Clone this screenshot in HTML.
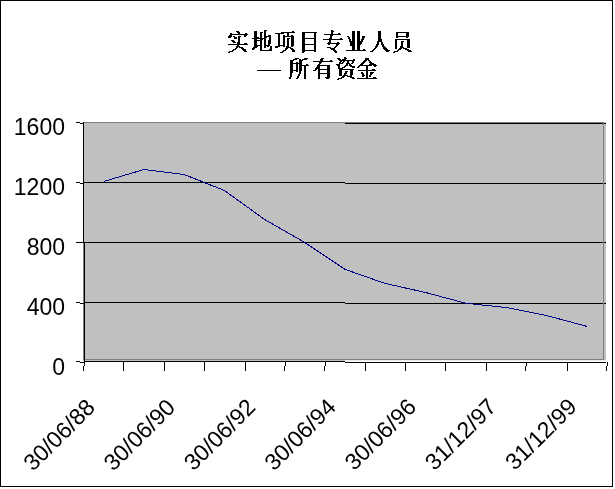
<!DOCTYPE html>
<html><head><meta charset="utf-8"><title>Chart</title>
<style>
html,body{margin:0;padding:0;background:#fff;}
body{width:615px;height:489px;overflow:hidden;font-family:"Liberation Sans",sans-serif;}
svg{display:block;}
</style></head><body>
<svg style="will-change:transform" width="615" height="489" viewBox="0 0 615 489">
<rect x="0" y="0" width="615" height="489" fill="#fff"/>
<g shape-rendering="crispEdges">
<rect x="83" y="122" width="523" height="239" fill="#c0c0c0"/>
<rect x="345" y="360" width="261" height="1" fill="#ebebeb"/>
<rect x="83" y="182" width="262" height="1" fill="#000"/>
<rect x="83" y="242" width="262" height="1" fill="#000"/>
<rect x="83" y="302" width="262" height="1" fill="#000"/>
<rect x="345" y="123" width="261" height="1" fill="#000"/>
<rect x="345" y="183" width="261" height="1" fill="#000"/>
<rect x="345" y="242" width="261" height="1" fill="#000"/>
<rect x="345" y="303" width="261" height="1" fill="#000"/>
<rect x="83" y="122" width="521" height="1" fill="#808080"/>
<rect x="83" y="359" width="521" height="1" fill="#808080"/>
<rect x="603" y="122" width="1" height="238" fill="#808080"/>
<rect x="83" y="122" width="1" height="238" fill="#808080"/>
<rect x="84" y="361" width="261" height="1" fill="#000"/>
<rect x="345" y="362" width="261" height="1" fill="#000"/>
<rect x="83" y="122" width="1" height="121" fill="#000"/>
<rect x="84" y="243" width="1" height="120" fill="#000"/>
<rect x="76" y="122" width="4" height="1" fill="#000"/>
<rect x="80" y="123" width="4" height="1" fill="#000"/>
<rect x="76" y="182" width="4" height="1" fill="#000"/>
<rect x="80" y="183" width="4" height="1" fill="#000"/>
<rect x="76" y="302" width="4" height="1" fill="#000"/>
<rect x="80" y="303" width="4" height="1" fill="#000"/>
<rect x="76" y="361" width="4" height="1" fill="#000"/>
<rect x="80" y="362" width="4" height="1" fill="#000"/>
<rect x="76" y="242" width="8" height="1" fill="#000"/>
<rect x="84" y="361" width="1" height="5" fill="#000"/>
<rect x="83" y="366" width="1" height="5" fill="#000"/>
<rect x="123" y="361" width="1" height="10" fill="#000"/>
<rect x="164" y="361" width="1" height="10" fill="#000"/>
<rect x="204" y="361" width="1" height="10" fill="#000"/>
<rect x="245" y="361" width="1" height="10" fill="#000"/>
<rect x="285" y="361" width="1" height="5" fill="#000"/>
<rect x="284" y="366" width="1" height="5" fill="#000"/>
<rect x="325" y="361" width="1" height="5" fill="#000"/>
<rect x="324" y="366" width="1" height="5" fill="#000"/>
<rect x="365" y="362" width="1" height="9" fill="#000"/>
<rect x="405" y="362" width="1" height="9" fill="#000"/>
<rect x="445" y="362" width="1" height="9" fill="#000"/>
<rect x="486" y="362" width="1" height="9" fill="#000"/>
<rect x="526" y="362" width="1" height="4" fill="#000"/>
<rect x="525" y="366" width="1" height="5" fill="#000"/>
<rect x="567" y="362" width="1" height="9" fill="#000"/>
<rect x="607" y="362" width="1" height="4" fill="#000"/>
<rect x="606" y="366" width="1" height="5" fill="#000"/>
<rect x="0" y="0" width="613" height="1" fill="#000"/>
<rect x="0" y="486" width="613" height="1" fill="#000"/>
<rect x="0" y="0" width="1" height="487" fill="#000"/>
<rect x="612" y="0" width="1" height="487" fill="#000"/>
<polyline fill="none" stroke="#000080" stroke-width="1" points="103.6,181.5 143.9,169.5 184.1,174.5 224.4,190.5 264.6,219.5 304.9,242.5 345.1,269.4 385.4,283.5 425.6,292.5 465.9,303.3 506.1,307.5 546.4,315.5 586.6,326.3"/>
<rect x="257" y="70" width="24" height="1" fill="#000"/>
</g>
<path fill="#000" shape-rendering="crispEdges" d="M236 31h3v1h-3zM237 32h3v1h-3zM230 33h2v1h-2zM238 33h2v1h-2zM245 33h2v1h-2zM230 34h18v1h-18zM229 35h3v1h-3zM244 35h3v1h-3zM228 36h4v1h-4zM233 36h2v1h-2zM238 36h3v1h-3zM244 36h2v1h-2zM228 37h3v1h-3zM234 37h3v1h-3zM238 37h2v1h-2zM234 38h3v1h-3zM238 38h2v1h-2zM238 39h2v1h-2zM231 40h3v1h-3zM238 40h2v1h-2zM232 41h3v1h-3zM238 41h2v1h-2zM233 42h3v1h-3zM237 42h3v1h-3zM237 43h3v1h-3zM244 43h3v1h-3zM228 44h20v1h-20zM237 45h2v1h-2zM236 46h4v1h-4zM236 47h2v1h-2zM239 47h4v1h-4zM235 48h2v1h-2zM241 48h3v1h-3zM233 49h3v1h-3zM242 49h4v1h-4zM232 50h2v1h-2zM243 50h3v1h-3zM229 51h4v1h-4zM244 51h3v1h-3zM228 52h2v1h-2zM264 30h3v1h-3zM254 31h3v1h-3zM264 31h2v1h-2zM254 32h3v1h-3zM260 32h3v1h-3zM264 32h2v1h-2zM254 33h3v1h-3zM260 33h2v1h-2zM264 33h2v1h-2zM254 34h3v1h-3zM260 34h2v1h-2zM264 34h2v1h-2zM254 35h3v1h-3zM260 35h2v1h-2zM264 35h2v1h-2zM268 35h3v1h-3zM254 36h3v1h-3zM260 36h2v1h-2zM264 36h7v1h-7zM254 37h5v1h-5zM260 37h2v1h-2zM264 37h3v1h-3zM269 37h2v1h-2zM252 38h14v1h-14zM269 38h2v1h-2zM254 39h3v1h-3zM260 39h3v1h-3zM264 39h2v1h-2zM269 39h2v1h-2zM254 40h8v1h-8zM264 40h2v1h-2zM268 40h3v1h-3zM254 41h3v1h-3zM260 41h2v1h-2zM264 41h2v1h-2zM268 41h3v1h-3zM254 42h3v1h-3zM260 42h2v1h-2zM264 42h2v1h-2zM268 42h3v1h-3zM254 43h3v1h-3zM260 43h2v1h-2zM264 43h2v1h-2zM268 43h3v1h-3zM254 44h3v1h-3zM260 44h2v1h-2zM264 44h2v1h-2zM268 44h2v1h-2zM254 45h8v1h-8zM264 45h6v1h-6zM254 46h4v1h-4zM260 46h2v1h-2zM264 46h2v1h-2zM267 46h2v1h-2zM270 46h2v1h-2zM253 47h4v1h-4zM260 47h2v1h-2zM264 47h2v1h-2zM270 47h2v1h-2zM252 48h3v1h-3zM260 48h2v1h-2zM270 48h2v1h-2zM252 49h2v1h-2zM260 49h2v1h-2zM269 49h3v1h-3zM260 50h12v1h-12zM292 31h2v1h-2zM281 32h14v1h-14zM275 33h9v1h-9zM287 33h2v1h-2zM278 34h2v1h-2zM287 34h2v1h-2zM278 35h2v1h-2zM283 35h2v1h-2zM287 35h2v1h-2zM291 35h2v1h-2zM278 36h2v1h-2zM283 36h11v1h-11zM278 37h2v1h-2zM283 37h2v1h-2zM291 37h3v1h-3zM278 38h2v1h-2zM283 38h2v1h-2zM287 38h3v1h-3zM291 38h3v1h-3zM278 39h2v1h-2zM283 39h2v1h-2zM287 39h2v1h-2zM291 39h3v1h-3zM278 40h2v1h-2zM283 40h2v1h-2zM287 40h2v1h-2zM291 40h3v1h-3zM278 41h2v1h-2zM283 41h2v1h-2zM287 41h2v1h-2zM291 41h3v1h-3zM278 42h2v1h-2zM283 42h2v1h-2zM287 42h2v1h-2zM291 42h3v1h-3zM278 43h2v1h-2zM283 43h2v1h-2zM287 43h2v1h-2zM291 43h3v1h-3zM278 44h2v1h-2zM283 44h2v1h-2zM287 44h2v1h-2zM291 44h3v1h-3zM278 45h7v1h-7zM287 45h2v1h-2zM291 45h3v1h-3zM275 46h5v1h-5zM283 46h2v1h-2zM286 46h3v1h-3zM291 46h2v1h-2zM275 47h3v1h-3zM286 47h5v1h-5zM285 48h3v1h-3zM290 48h3v1h-3zM285 49h2v1h-2zM291 49h3v1h-3zM283 50h3v1h-3zM292 50h3v1h-3zM282 51h2v1h-2zM292 51h3v1h-3zM280 52h3v1h-3zM302 32h15v1h-15zM302 33h3v1h-3zM314 33h2v1h-2zM302 34h3v1h-3zM314 34h2v1h-2zM302 35h3v1h-3zM314 35h2v1h-2zM302 36h3v1h-3zM314 36h2v1h-2zM302 37h3v1h-3zM314 37h2v1h-2zM302 38h14v1h-14zM302 39h3v1h-3zM314 39h2v1h-2zM302 40h3v1h-3zM314 40h2v1h-2zM302 41h3v1h-3zM314 41h2v1h-2zM302 42h3v1h-3zM314 42h2v1h-2zM302 43h3v1h-3zM314 43h2v1h-2zM302 44h14v1h-14zM302 45h3v1h-3zM314 45h2v1h-2zM302 46h3v1h-3zM314 46h2v1h-2zM302 47h3v1h-3zM314 47h2v1h-2zM302 48h3v1h-3zM314 48h2v1h-2zM302 49h3v1h-3zM314 49h2v1h-2zM302 50h14v1h-14zM302 51h3v1h-3zM314 51h2v1h-2zM302 52h2v1h-2zM331 30h2v1h-2zM331 31h3v1h-3zM331 32h2v1h-2zM331 33h2v1h-2zM338 33h2v1h-2zM324 34h17v1h-17zM330 35h3v1h-3zM330 36h2v1h-2zM330 37h2v1h-2zM329 38h3v1h-3zM340 38h2v1h-2zM323 39h20v1h-20zM329 40h2v1h-2zM329 41h2v1h-2zM328 42h3v1h-3zM337 42h2v1h-2zM327 43h13v1h-13zM328 44h2v1h-2zM336 44h3v1h-3zM336 45h2v1h-2zM335 46h2v1h-2zM327 47h4v1h-4zM334 47h2v1h-2zM330 48h5v1h-5zM331 49h4v1h-4zM333 50h3v1h-3zM334 51h3v1h-3zM335 52h2v1h-2zM352 31h3v1h-3zM357 31h3v1h-3zM352 32h3v1h-3zM357 32h3v1h-3zM352 33h3v1h-3zM357 33h3v1h-3zM352 34h3v1h-3zM357 34h3v1h-3zM352 35h3v1h-3zM357 35h3v1h-3zM347 36h2v1h-2zM352 36h3v1h-3zM357 36h3v1h-3zM362 36h3v1h-3zM348 37h2v1h-2zM352 37h3v1h-3zM357 37h3v1h-3zM362 37h3v1h-3zM348 38h2v1h-2zM352 38h3v1h-3zM357 38h3v1h-3zM362 38h2v1h-2zM349 39h2v1h-2zM352 39h3v1h-3zM357 39h3v1h-3zM361 39h3v1h-3zM349 40h2v1h-2zM352 40h3v1h-3zM357 40h3v1h-3zM361 40h2v1h-2zM349 41h6v1h-6zM357 41h6v1h-6zM350 42h5v1h-5zM357 42h5v1h-5zM350 43h5v1h-5zM357 43h5v1h-5zM350 44h5v1h-5zM357 44h4v1h-4zM350 45h5v1h-5zM357 45h3v1h-3zM352 46h3v1h-3zM357 46h3v1h-3zM352 47h3v1h-3zM357 47h3v1h-3zM352 48h3v1h-3zM357 48h3v1h-3zM352 49h3v1h-3zM357 49h3v1h-3zM363 49h2v1h-2zM346 50h20v1h-20zM378 31h3v1h-3zM378 32h3v1h-3zM378 33h3v1h-3zM378 34h3v1h-3zM378 35h3v1h-3zM378 36h3v1h-3zM378 37h3v1h-3zM378 38h3v1h-3zM378 39h4v1h-4zM378 40h4v1h-4zM377 41h5v1h-5zM377 42h2v1h-2zM381 42h2v1h-2zM377 43h2v1h-2zM381 43h2v1h-2zM376 44h3v1h-3zM381 44h3v1h-3zM376 45h2v1h-2zM382 45h2v1h-2zM375 46h3v1h-3zM382 46h3v1h-3zM375 47h2v1h-2zM383 47h3v1h-3zM374 48h2v1h-2zM383 48h4v1h-4zM373 49h2v1h-2zM384 49h4v1h-4zM372 50h2v1h-2zM385 50h5v1h-5zM370 51h3v1h-3zM386 51h3v1h-3zM396 32h13v1h-13zM396 33h2v1h-2zM406 33h3v1h-3zM396 34h2v1h-2zM406 34h3v1h-3zM396 35h2v1h-2zM406 35h3v1h-3zM396 36h13v1h-13zM396 37h2v1h-2zM406 37h2v1h-2zM395 39h15v1h-15zM395 40h2v1h-2zM407 40h3v1h-3zM395 41h2v1h-2zM401 41h3v1h-3zM407 41h3v1h-3zM395 42h2v1h-2zM401 42h2v1h-2zM407 42h3v1h-3zM395 43h2v1h-2zM401 43h2v1h-2zM407 43h3v1h-3zM395 44h2v1h-2zM401 44h2v1h-2zM407 44h3v1h-3zM395 45h2v1h-2zM401 45h2v1h-2zM407 45h3v1h-3zM395 46h2v1h-2zM400 46h3v1h-3zM407 46h3v1h-3zM395 47h2v1h-2zM400 47h4v1h-4zM407 47h3v1h-3zM395 48h2v1h-2zM399 48h3v1h-3zM403 48h4v1h-4zM398 49h3v1h-3zM405 49h4v1h-4zM397 50h2v1h-2zM407 50h4v1h-4zM394 51h4v1h-4zM408 51h4v1h-4zM393 52h2v1h-2zM295 58h4v1h-4zM304 58h4v1h-4zM293 59h4v1h-4zM299 59h2v1h-2zM302 59h5v1h-5zM290 60h4v1h-4zM299 60h4v1h-4zM290 61h3v1h-3zM299 61h3v1h-3zM290 62h3v1h-3zM296 62h2v1h-2zM299 62h3v1h-3zM290 63h12v1h-12zM290 64h3v1h-3zM296 64h2v1h-2zM299 64h3v1h-3zM306 64h2v1h-2zM290 65h3v1h-3zM296 65h2v1h-2zM299 65h10v1h-10zM290 66h3v1h-3zM296 66h2v1h-2zM299 66h3v1h-3zM304 66h2v1h-2zM290 67h3v1h-3zM296 67h2v1h-2zM299 67h3v1h-3zM304 67h2v1h-2zM290 68h3v1h-3zM296 68h2v1h-2zM299 68h3v1h-3zM304 68h2v1h-2zM290 69h3v1h-3zM296 69h2v1h-2zM299 69h3v1h-3zM304 69h2v1h-2zM290 70h8v1h-8zM299 70h3v1h-3zM304 70h2v1h-2zM290 71h3v1h-3zM296 71h2v1h-2zM299 71h2v1h-2zM304 71h2v1h-2zM290 72h3v1h-3zM299 72h2v1h-2zM304 72h2v1h-2zM290 73h2v1h-2zM299 73h2v1h-2zM304 73h2v1h-2zM290 74h2v1h-2zM298 74h2v1h-2zM304 74h2v1h-2zM290 75h2v1h-2zM298 75h2v1h-2zM304 75h2v1h-2zM290 76h2v1h-2zM297 76h2v1h-2zM304 76h2v1h-2zM289 77h2v1h-2zM297 77h2v1h-2zM304 77h2v1h-2zM289 78h2v1h-2zM296 78h2v1h-2zM304 78h2v1h-2zM321 58h3v1h-3zM320 59h3v1h-3zM320 60h3v1h-3zM330 60h2v1h-2zM313 61h20v1h-20zM319 62h3v1h-3zM319 63h2v1h-2zM318 64h2v1h-2zM317 65h13v1h-13zM317 66h3v1h-3zM327 66h3v1h-3zM316 67h4v1h-4zM327 67h3v1h-3zM315 68h5v1h-5zM327 68h3v1h-3zM315 69h2v1h-2zM318 69h12v1h-12zM313 70h3v1h-3zM318 70h2v1h-2zM327 70h3v1h-3zM318 71h2v1h-2zM327 71h3v1h-3zM318 72h2v1h-2zM327 72h3v1h-3zM318 73h12v1h-12zM318 74h2v1h-2zM327 74h3v1h-3zM318 75h2v1h-2zM327 75h3v1h-3zM318 76h2v1h-2zM327 76h3v1h-3zM318 77h2v1h-2zM325 77h5v1h-5zM318 78h2v1h-2zM326 78h3v1h-3zM344 57h2v1h-2zM337 58h3v1h-3zM344 58h3v1h-3zM338 59h3v1h-3zM342 59h4v1h-4zM353 59h2v1h-2zM339 60h16v1h-16zM340 61h2v1h-2zM343 61h2v1h-2zM347 61h2v1h-2zM352 61h2v1h-2zM339 62h2v1h-2zM342 62h2v1h-2zM347 62h2v1h-2zM352 62h2v1h-2zM339 63h4v1h-4zM346 63h4v1h-4zM351 63h2v1h-2zM336 64h4v1h-4zM346 64h2v1h-2zM349 64h2v1h-2zM337 65h3v1h-3zM345 65h3v1h-3zM349 65h3v1h-3zM338 66h2v1h-2zM344 66h2v1h-2zM350 66h5v1h-5zM338 67h2v1h-2zM342 67h3v1h-3zM352 67h3v1h-3zM338 68h5v1h-5zM339 69h15v1h-15zM339 70h3v1h-3zM350 70h3v1h-3zM339 71h3v1h-3zM345 71h3v1h-3zM350 71h3v1h-3zM339 72h3v1h-3zM345 72h2v1h-2zM350 72h3v1h-3zM339 73h3v1h-3zM344 73h3v1h-3zM350 73h3v1h-3zM339 74h3v1h-3zM344 74h2v1h-2zM350 74h3v1h-3zM339 75h3v1h-3zM343 75h5v1h-5zM350 75h2v1h-2zM342 76h3v1h-3zM347 76h5v1h-5zM341 77h3v1h-3zM350 77h4v1h-4zM338 78h4v1h-4zM352 78h3v1h-3zM337 79h2v1h-2zM365 58h4v1h-4zM365 59h4v1h-4zM364 60h3v1h-3zM368 60h2v1h-2zM363 61h3v1h-3zM369 61h2v1h-2zM362 62h3v1h-3zM369 62h3v1h-3zM361 63h3v1h-3zM370 63h4v1h-4zM360 64h3v1h-3zM369 64h7v1h-7zM359 65h13v1h-13zM373 65h4v1h-4zM358 66h2v1h-2zM366 66h2v1h-2zM374 66h2v1h-2zM357 67h2v1h-2zM366 67h2v1h-2zM366 68h2v1h-2zM366 69h2v1h-2zM372 69h3v1h-3zM358 70h18v1h-18zM366 71h2v1h-2zM361 72h2v1h-2zM366 72h2v1h-2zM370 72h4v1h-4zM361 73h3v1h-3zM366 73h2v1h-2zM370 73h3v1h-3zM362 74h2v1h-2zM366 74h2v1h-2zM370 74h2v1h-2zM362 75h3v1h-3zM366 75h2v1h-2zM369 75h2v1h-2zM362 76h2v1h-2zM366 76h2v1h-2zM369 76h2v1h-2zM366 77h2v1h-2zM373 77h3v1h-3zM357 78h20v1h-20z"/>
<g font-family="'Liberation Sans', sans-serif" font-size="23.0px" fill="#000" text-anchor="end">
<text x="65.0" y="134.5">1600</text>
<text x="65.0" y="194.5">1200</text>
<text x="65.0" y="254.5">800</text>
<text x="65.0" y="314.5">400</text>
<text x="65.0" y="374.5">0</text>
</g>
<g font-family="'Liberation Sans', sans-serif" font-size="23.0px" fill="#000">
<text transform="translate(32.98 472.08) rotate(-45)" x="0" y="0">30/06/88</text>
<text transform="translate(113.28 471.96) rotate(-45)" x="0" y="0">30/06/90</text>
<text transform="translate(193.58 471.84) rotate(-45)" x="0" y="0">30/06/92</text>
<text transform="translate(273.88 471.72) rotate(-45)" x="0" y="0">30/06/94</text>
<text transform="translate(354.18 471.60) rotate(-45)" x="0" y="0">30/06/96</text>
<text transform="translate(434.48 471.48) rotate(-45)" x="0" y="0">31/12/97</text>
<text transform="translate(514.78 471.36) rotate(-45)" x="0" y="0">31/12/99</text>
</g>
</svg>
</body></html>
